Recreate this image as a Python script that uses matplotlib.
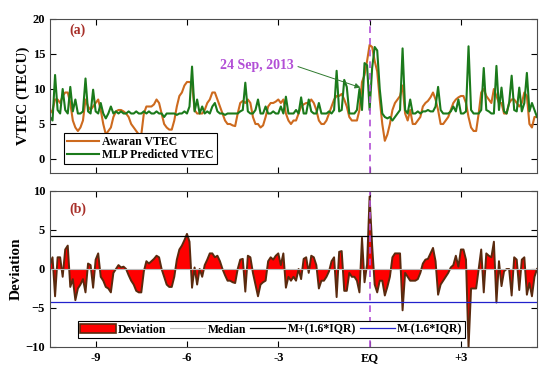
import numpy as np
import matplotlib
matplotlib.use("Agg")
import matplotlib.pyplot as plt
from matplotlib.patches import Patch
from matplotlib.lines import Line2D

plt.rcParams["font.family"] = ["Liberation Serif", "DejaVu Serif"]
plt.rcParams["font.weight"] = "bold"

# 2-hourly samples, days relative to the earthquake (24 Sep 2013)
days = np.linspace(-10.5, 5.5, 193)

awaran_vtec = [
    6.5, 7.0, 8.5, 8.5, 8.0, 9.0, 9.5, 9.5, 8.0, 5.5, 4.5, 4.0,
    4.5, 5.5, 8.5, 7.5, 7.0, 7.5, 8.0, 8.5, 7.0, 5.0, 3.5, 4.0,
    4.5, 6.0, 6.8, 7.0, 7.0, 6.8, 6.5, 6.0, 5.0, 4.5, 4.0, 3.5,
    3.5, 6.5, 7.5, 7.5, 7.5, 7.8, 8.5, 8.0, 6.5, 5.0, 4.5, 4.2,
    4.2, 5.5, 7.5, 9.0, 9.5, 10.5, 11.0, 11.0, 10.8, 7.0, 6.5, 6.5,
    6.5, 7.0, 8.0, 8.5, 9.5, 9.5, 8.5, 7.5, 6.5, 5.5, 5.0, 5.0,
    4.8, 4.7, 6.5, 8.0, 8.3, 8.0, 8.5, 8.0, 6.0, 5.0, 5.0, 4.5,
    4.8, 6.0, 7.5, 8.0, 8.0, 8.2, 8.5, 8.0, 8.5, 6.5, 5.5, 5.0,
    5.5, 5.5, 6.5, 7.5, 7.8, 8.0, 8.0, 8.5, 8.0, 7.0, 5.5, 5.0,
    5.0, 5.5, 6.5, 7.5, 8.5, 9.0, 9.0, 9.3, 8.5, 7.5, 6.0, 5.5,
    5.5, 5.5, 7.0, 11.0, 12.0, 14.0, 16.3, 16.0, 14.0, 12.5, 8.5, 5.0,
    2.6, 3.5, 5.0, 7.0, 8.0, 8.5, 9.0, 10.5, 6.5, 5.5, 7.0, 5.0,
    5.0, 5.5, 6.0, 7.5, 8.0, 8.3, 8.8, 9.5, 8.5, 7.0, 5.0, 5.0,
    5.5, 6.0, 7.0, 8.0, 8.5, 8.8, 9.0, 9.0, 8.0, 6.0, 4.5, 4.0,
    4.0, 6.5, 9.5, 10.0, 9.0, 8.5, 8.0, 10.0, 9.0, 8.0, 8.0, 6.5,
    6.5, 8.0, 8.5, 8.5, 8.0, 7.5, 8.0, 9.5, 9.0, 5.0, 4.5, 6.0, 6.0,
]

mlp_vtec = [
    6.0, 5.5, 12.0, 7.0, 6.5, 10.0, 7.0, 6.5, 10.3, 6.8, 8.5, 6.5,
    6.5, 6.8, 11.5, 6.8, 6.5, 9.9, 6.8, 6.5, 8.0, 6.5, 5.8, 6.5,
    7.5, 6.5, 6.8, 6.5, 6.8, 6.5, 6.5, 6.8, 6.5, 6.5, 6.8, 6.5,
    6.5, 6.8, 6.5, 6.8, 6.5, 6.5, 6.8, 6.5, 6.5, 6.0, 6.5, 6.5,
    6.5, 6.5, 6.3, 6.5, 6.5, 6.8, 6.5, 7.5, 13.2, 6.8, 8.5, 6.5,
    7.5, 6.5, 6.8, 6.5, 7.5, 8.0, 6.8, 6.5, 6.5, 6.3, 6.5, 6.5,
    6.5, 6.5, 6.5, 6.8, 7.0, 10.9, 6.8, 6.5, 6.5, 7.0, 8.5, 6.5,
    6.5, 7.5, 6.5, 6.5, 6.8, 6.5, 6.5, 7.5, 6.5, 8.9, 6.5, 6.5,
    6.5, 7.0, 6.5, 8.8, 6.5, 6.5, 8.5, 6.8, 6.5, 6.5, 8.0, 6.5,
    6.5, 6.5, 6.8, 6.5, 7.0, 12.6, 6.8, 7.0, 11.3, 10.3, 6.5, 6.5,
    6.5, 7.0, 10.0, 7.0, 13.7, 13.4, 7.0, 13.0, 16.0, 15.5, 10.0, 6.5,
    6.0, 5.8, 6.0, 5.5, 6.0, 6.5, 7.0, 15.8, 7.0, 6.5, 8.5, 6.5,
    6.5, 6.8, 6.5, 6.8, 6.8, 7.0, 6.8, 6.8, 7.5, 10.3, 7.0, 6.5,
    6.5, 6.5, 6.8, 7.5, 6.8, 8.5, 6.5, 6.5, 6.8, 16.1, 7.0, 6.5,
    6.5, 6.5, 7.0, 13.0, 7.0, 6.8, 6.5, 6.5, 13.3, 7.0, 10.2, 6.8,
    6.5, 8.0, 11.9, 7.0, 6.8, 10.2, 6.8, 8.0, 12.3, 6.8, 8.0, 7.0, 6.0,
]

median_dev = 0.0
upper_bound = 4.2
lower_bound = -4.25

tick_days = [-9, -6, -3, 0, 3]
tick_labels = ["-9", "-6", "-3", "EQ", "+3"]

deviation = np.array(awaran_vtec) - np.array(mlp_vtec)

orange = "#CD6A1E"
green = "#1B7A1B"
brown = "#5A2A0E"
eq_color = "#B24FD6"
label_red = "#A8302A"
axis_gray = "#4D4D4D"

fig = plt.figure(figsize=(5.5, 3.71), dpi=100)
ax1 = fig.add_axes([0.0909, 0.5337, 0.8855, 0.4151])
ax2 = fig.add_axes([0.0909, 0.0647, 0.8855, 0.4205])

for ax in (ax1, ax2):
    ax.set_xlim(-10.5, 5.5)
    ax.set_xticks(tick_days)
    ax.tick_params(direction="in", top=True, right=True, length=4,
                   width=0.8, colors="black", labelsize=9)
    for s in ax.spines.values():
        s.set_color(axis_gray)
        s.set_linewidth(0.8)
    for lab in ax.get_xticklabels() + ax.get_yticklabels():
        lab.set_fontweight("bold")

# (a) VTEC
ax1.plot(days, awaran_vtec, color=orange, lw=1.5, label="Awaran VTEC")
ax1.plot(days, mlp_vtec, color=green, lw=1.5, label="MLP Predicted VTEC")
ax1.axvline(0, color=eq_color, ls=(0, (4, 3)), lw=1.2)
ax1.set_ylim(-2, 20)
ax1.set_yticks([0, 5, 10, 15, 20])
ax1.set_xticklabels([])
ax1.set_ylabel("VTEC (TECU)", fontsize=11, fontweight="bold", labelpad=2)
ax1.text(-9.85, 18.4, "(a)", color=label_red, fontsize=10,
         fontweight="bold", ha="left", va="center")
ax1.annotate("24 Sep, 2013", xy=(-0.3, 10.2), xytext=(-3.7, 13.4),
             color=eq_color, fontsize=10, fontweight="bold",
             ha="center", va="center",
             arrowprops=dict(arrowstyle="-|>", color="#2E7A2E", lw=0.7,
                             relpos=(1.0, 0.5), shrinkA=1, shrinkB=0,
                             mutation_scale=8))
leg1 = ax1.legend(loc="lower left", bbox_to_anchor=(0.016, 0.02),
                  prop={"size": 8.5, "weight": "bold"}, handlelength=2.7,
                  handletextpad=0.3, borderpad=0.25, labelspacing=0.12,
                  fancybox=False, edgecolor="black", framealpha=1)
leg1.get_frame().set_linewidth(0.8)

# (b) deviation
ax2.fill_between(days, deviation, median_dev, facecolor="red",
                 edgecolor="none")
ax2.plot(days, deviation, color=brown, lw=1.4)
ax2.axhline(median_dev, color="#BBBBBB", lw=0.8)
ax2.axhline(upper_bound, color="black", lw=0.9)
ax2.axhline(lower_bound, color="#2222CC", lw=0.9)
ax2.axvline(0, color=eq_color, ls=(0, (4, 3)), lw=1.2)
ax2.set_ylim(-10, 10)
ax2.set_yticks([-10, -5, 0, 5, 10])
ax2.set_xticklabels(tick_labels, fontweight="bold")
ax2.set_ylabel("Deviation", fontsize=11, fontweight="bold", labelpad=2)
ax2.text(-9.85, 7.6, "(b)", color=label_red, fontsize=10,
         fontweight="bold", ha="left", va="center")

handles = [
    Patch(facecolor="red", edgecolor=brown, lw=1.2),
    Line2D([], [], color="#BBBBBB", lw=0.8),
    Line2D([], [], color="black", lw=0.9),
    Line2D([], [], color="#2222CC", lw=0.9),
]
labels = ["Deviation", "Median", "M+(1.6*IQR)", "M-(1.6*IQR)"]
leg2 = ax2.legend(handles, labels, loc="lower left", ncol=4,
                  bbox_to_anchor=(0.045, 0.02),
                  prop={"size": 8.5, "weight": "bold"}, handlelength=3.0,
                  handletextpad=0.2, columnspacing=0.3, borderpad=0.2,
                  fancybox=False, edgecolor="black", framealpha=1)
leg2.get_frame().set_linewidth(0.8)

fig.savefig("out.png", dpi=100)
